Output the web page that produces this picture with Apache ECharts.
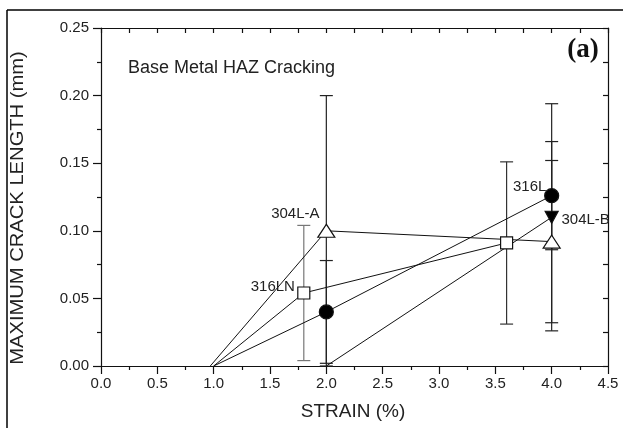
<!DOCTYPE html>
<html>
<head>
<meta charset="utf-8">
<script src="https://cdn.jsdelivr.net/npm/echarts@6/dist/echarts.min.js"></script>
<style>
  html, body { margin: 0; padding: 0; background: #fff; }
  #chart { width: 623px; height: 428px; }
</style>
</head>
<body>
<div id="chart"></div>
<script>
// Maximum crack length (mm) versus strain (%) for each alloy; first point is the crack onset strain.
const s304A  = [[0.97, 0], [2.0, 0.100], [4.0, 0.092]];
const s316LN = [[1.0, 0], [1.8, 0.054], [3.6, 0.091]];
const s316L  = [[1.0, 0], [2.0, 0.040], [4.0, 0.126]];
const s304B  = [[2.0, 0], [4.0, 0.110]];

// Scatter ranges: [strain, low, high]
const err304A  = [[2.0, 0.000, 0.200], [4.0, 0.032, 0.152]];
const err316LN = [[1.8, 0.004, 0.104], [3.6, 0.031, 0.151]];
const err316L  = [[2.0, 0.002, 0.078], [4.0, 0.086, 0.166]];
const err304B  = [[4.0, 0.026, 0.194]];

const FONT = '"Liberation Sans", Arial, sans-serif';
const INK = '#111';

const chart = echarts.init(document.getElementById('chart'));

function lineData(points, labelIndex, labelOffset) {
  return points.map((p, i) => {
    const item = { value: p };
    if (i === 0) item.symbol = 'none';
    if (i === labelIndex) {
      item.label = {
        show: true, position: 'inside', offset: labelOffset,
        formatter: '{a}', fontSize: 15, color: '#222', fontFamily: FONT
      };
    }
    return item;
  });
}

function lineSeries(name, points, symbol, size, fill, labelIndex, labelOffset, rotate) {
  return {
    name, type: 'line', data: lineData(points, labelIndex, labelOffset),
    symbol, symbolSize: size, symbolRotate: rotate || 0, showSymbol: true,
    lineStyle: { color: INK, width: 1 },
    itemStyle: { color: fill, borderColor: INK, borderWidth: 1.2 },
    label: { show: false },
    z: 5, animation: false
  };
}

// colors: one stroke colour per bar in the series
function errorSeries(data, colors) {
  return {
    type: 'custom', data, z: 3, animation: false, silent: true,
    renderItem(params, api) {
      const x = api.value(0);
      const top = api.coord([x, api.value(2)]);
      const bot = api.coord([x, api.value(1)]);
      const half = 6.5;
      const style = { stroke: colors[params.dataIndex % colors.length], lineWidth: 1.2 };
      return {
        type: 'group',
        children: [
          { type: 'line', shape: { x1: top[0], y1: top[1], x2: bot[0], y2: bot[1] }, style },
          { type: 'line', shape: { x1: top[0] - half, y1: top[1], x2: top[0] + half, y2: top[1] }, style },
          { type: 'line', shape: { x1: bot[0] - half, y1: bot[1], x2: bot[0] + half, y2: bot[1] }, style }
        ]
      };
    }
  };
}

const axisLine = { show: true, onZero: false, lineStyle: { color: INK, width: 1.2 } };
const tickStyle = { color: INK, width: 1.2 };

chart.setOption({
  animation: false,
  grid: { left: 101, right: 15, top: 28, bottom: 62, containLabel: false },
  xAxis: [
    {
      type: 'value', min: 0, max: 4.5, interval: 0.5, position: 'bottom',
      axisLine, splitLine: { show: false },
      axisTick: { show: true, inside: false, length: 8, lineStyle: tickStyle },
      minorTick: { show: true, splitNumber: 2, length: 4, lineStyle: tickStyle },
      axisLabel: { formatter: v => v.toFixed(1), fontSize: 15, color: '#222', margin: 10, fontFamily: FONT }
    },
    {
      type: 'value', min: 0, max: 4.5, interval: 0.25, position: 'top',
      axisLine, splitLine: { show: false },
      axisTick: { show: true, inside: true, length: 5, lineStyle: tickStyle },
      axisLabel: { show: false }
    }
  ],
  yAxis: [
    {
      type: 'value', min: 0, max: 0.25, interval: 0.05, position: 'left',
      axisLine, splitLine: { show: false },
      axisTick: { show: true, inside: false, length: 8, lineStyle: tickStyle },
      minorTick: { show: true, splitNumber: 2, length: 4, lineStyle: tickStyle },
      axisLabel: { formatter: v => v.toFixed(2), fontSize: 15, color: '#222', margin: 12, fontFamily: FONT }
    },
    {
      type: 'value', min: 0, max: 0.25, interval: 0.025, position: 'right',
      axisLine, splitLine: { show: false },
      axisTick: { show: true, inside: true, length: 5, lineStyle: tickStyle },
      axisLabel: { show: false }
    }
  ],
  graphic: [
    { type: 'line', shape: { x1: 7, y1: 10, x2: 623, y2: 10 }, style: { stroke: '#000', lineWidth: 1.5 } },
    { type: 'line', shape: { x1: 7, y1: 10, x2: 7, y2: 428 }, style: { stroke: '#000', lineWidth: 1.5 } },
    {
      type: 'text', x: 18, y: 208, rotation: Math.PI / 2, scaleX: 1.12,
      style: { text: 'MAXIMUM CRACK LENGTH (mm)', font: '18px ' + FONT, fill: '#222', align: 'center', verticalAlign: 'middle' }
    },
    {
      type: 'text', x: 353, y: 412,
      style: { text: 'STRAIN (%)', font: '19px ' + FONT, fill: '#222', align: 'center', verticalAlign: 'middle' }
    },
    {
      type: 'text', x: 128, y: 68,
      style: { text: 'Base Metal HAZ Cracking', font: '18px ' + FONT, fill: '#222', align: 'left', verticalAlign: 'middle' }
    },
    {
      type: 'text', x: 583, y: 50,
      style: { text: '(a)', font: 'bold 27px "Liberation Serif", "Times New Roman", serif', fill: '#111', align: 'center', verticalAlign: 'middle' }
    }
  ],
  series: [
    errorSeries(err316LN, ['#777', '#333']),
    errorSeries(err304A, ['#222']),
    errorSeries(err316L, ['#222']),
    errorSeries(err304B, ['#222']),
    lineSeries('316LN', s316LN, 'rect', 12, '#fff', 1, [-31, -6]),
    lineSeries('316L', s316L, 'circle', 14, '#000', 2, [-22, -9]),
    lineSeries('304L-B', s304B, 'triangle', [13, 12], '#000', 1, [34, 3], 180),
    lineSeries('304L-A', s304A, 'triangle', [17, 13], '#fff', 1, [-31, -17])
  ]
});
</script>
</body>
</html>
